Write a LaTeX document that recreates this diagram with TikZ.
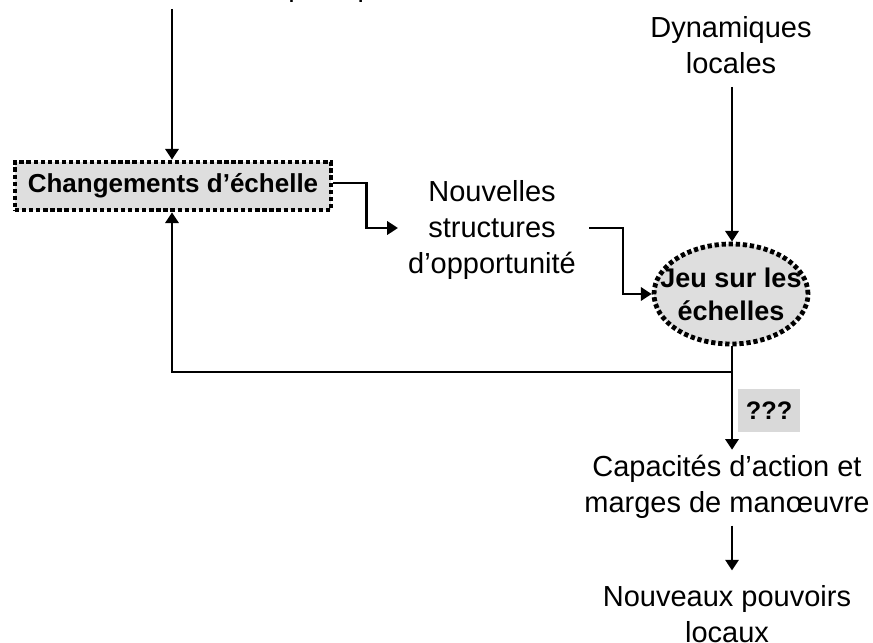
\documentclass[tikz,border=0pt]{standalone}
\usepackage{fontspec}
\setmainfont{Liberation Sans}
\usetikzlibrary{arrows.meta,shapes.geometric}
\definecolor{boxgray}{HTML}{DEDEDE}
\definecolor{qgray}{HTML}{D9D9D9}
\begin{document}
\begin{tikzpicture}[x=0.75pt,y=-0.75pt,
  txt/.style={align=center,inner sep=0pt,font=\fontsize{21.75}{27}\selectfont},
  boldtxt/.style={align=center,inner sep=0pt,font=\fontsize{19.5}{24.75}\selectfont\bfseries},
  dotborder/.style={draw=black,line width=3.6pt,dash pattern=on 3.2pt off 2.1pt,fill=boxgray},
  chgbox/.style={boldtxt,dotborder,rectangle,minimum width=237pt,minimum height=36pt},
  jeubox/.style={boldtxt,dotborder,ellipse,inner xsep=-13pt,inner ysep=0pt,
    minimum width=115.5pt,minimum height=75pt,font=\fontsize{20.25}{24.75}\selectfont\bfseries},
  qbox/.style={boldtxt,fill=qgray,minimum width=46.5pt,minimum height=32pt,font=\fontsize{19}{23}\selectfont\bfseries},
  conn/.style={draw=black,line width=1.7pt,-{Triangle[length=8pt,width=10pt]}}
]
\useasboundingbox (0,0) rectangle (873,642);

% nodes
\node[txt,anchor=base west] (top) at (288,-3) {politiques};
\node[chgbox] (chg) at (173,186) {Changements d’échelle};
\node[txt] (nouv) at (492,230) {Nouvelles\\structures\\d’opportunité};
\node[txt] (dyn) at (731,45) {Dynamiques\\locales};
\node[jeubox] (jeu) at (731,294) {Jeu sur les\\échelles};
\node[qbox] (q) at (769,410.5) {???};
\node[txt] (cap) at (727,487) {Capacités d’action et\\marges de manœuvre};
\node[txt] (pouv) at (727,614) {Nouveaux pouvoirs\\locaux};

\coordinate (topstart) at (172,9);
\coordinate (split) at (732,372);

% connectors
\draw[conn] (topstart) -- (topstart |- chg.north);
\draw[conn] ([shift={(0,-3)}]chg.east) -- ++(33,0) |- ([shift={(-10,-2)}]nouv.west);
\draw[conn] ([shift={(13,-2)}]nouv.east) -- ++(34,0) |- (jeu.west);
\draw[conn] ([yshift=-9.75pt]dyn.south -| split) -- (split |- jeu.north);
\draw[conn,shorten >=4pt] (split |- jeu.south) -- (split |- cap.north);
\draw[conn] (split) -| (topstart |- chg.south);
\draw[conn,shorten <=5pt,shorten >=11pt] (cap.south -| split) -- (pouv.north -| split);
\end{tikzpicture}
\end{document}
